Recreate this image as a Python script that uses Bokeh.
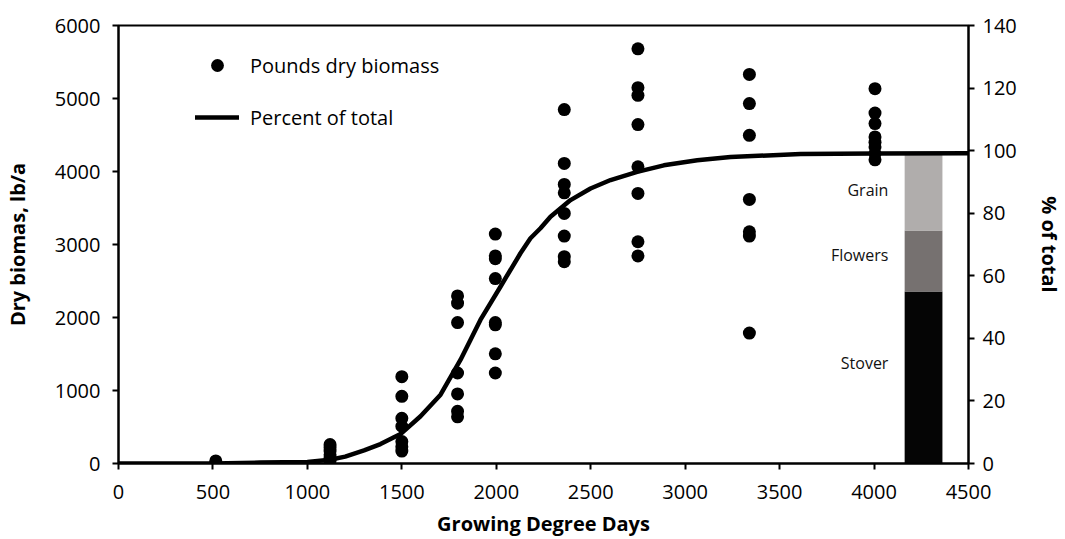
from bokeh.plotting import figure
from bokeh.models import Range1d, LinearAxis, FixedTicker, LabelSet, ColumnDataSource
from bokeh.core.properties import value
from bokeh.embed import file_html
from bokeh.resources import INLINE

# ---- data ----
gdd_pts = ([515] * 2 + [1120] * 6 + [1500] * 7 + [1795] * 7 + [1995] * 8 +
           [2360] * 8 + [2750] * 8 + [3340] * 7 + [4005] * 8)
biomass = [10, 35,
           260, 220, 170, 120, 80, 40,
           1190, 920, 620, 510, 300, 230, 170,
           2296, 2196, 1931, 1240, 953, 715, 640,
           3143, 2843, 2806, 2533, 1931, 1900, 1503, 1240,
           4848, 4110, 3823, 3708, 3426, 3116, 2833, 2765,
           5681, 5148, 5043, 4643, 4064, 3700, 3038, 2843,
           5330, 4930, 4496, 3617, 3175, 3116, 1786,
           5135, 4800, 4656, 4473, 4400, 4337, 4246, 4160]

gdd_curve = [0, 500, 750, 1000, 1120, 1200, 1300, 1387, 1493, 1599, 1705, 1811,
             1916, 2022, 2128, 2181, 2234, 2287, 2393, 2499, 2605, 2746, 2887,
             3064, 3240, 3611, 4000, 4500]
pct_total = [0, 0, 0.3, 0.5, 1.2, 2.2, 4.2, 6.2, 9.4, 15.1, 22, 33.2,
             45.9, 56.5, 67.2, 72, 75.2, 78.9, 84.2, 87.9, 90.6, 93.2, 95.3,
             96.9, 98, 98.9, 99.1, 99.2]

parts = ["Stover", "Flowers", "Grain"]
part_pct = [55, 19.5, 24.5]
part_colors = ["#050505", "#767170", "#b0adac"]
bar_x = 4262
label_y = [32.2, 66.6, 87.4]
label_x = 4076

x_ticks = list(range(0, 4501, 500))
y_ticks = list(range(0, 6001, 1000))
pct_ticks = list(range(0, 141, 20))

FONT = "Open Sans"

p = figure(width=1065, height=539, output_backend="svg", toolbar_location=None,
           x_range=Range1d(0, 4500), y_range=Range1d(0, 6000),
           min_border_left=118, min_border_right=97, min_border_top=25,
           min_border_bottom=75)
p.extra_y_ranges = {"pct": Range1d(0, 140)}
p.xgrid.visible = False
p.ygrid.visible = False
p.outline_line_color = "black"
p.outline_line_width = 2
p.background_fill_color = "white"
p.border_fill_color = "white"

# stacked bar
bottoms = []
acc = 0
for v in part_pct:
    bottoms.append(acc)
    acc += v
tops = [b + v for b, v in zip(bottoms, part_pct)]
bar_src = ColumnDataSource(dict(x=[bar_x] * 3, bottom=bottoms, top=tops, color=part_colors))
p.vbar(x="x", bottom="bottom", top="top", width=200, fill_color="color",
       line_color=None, source=bar_src, y_range_name="pct")

lab_src = ColumnDataSource(dict(x=[label_x] * 3, y=label_y, t=parts))
p.add_layout(LabelSet(x="x", y="y", text="t", source=lab_src, y_range_name="pct",
                      text_align="right", text_baseline="middle",
                      text_font=value(FONT), text_font_size="16px", text_color="#111111"))

# curve and points
line_r = p.line(gdd_curve, pct_total, y_range_name="pct", line_color="black",
                line_width=4.5, line_join="round", line_cap="round",
                legend_label="Percent of total")
pts_r = p.scatter(gdd_pts, biomass, size=13, fill_color="black", line_color=None,
                  legend_label="Pounds dry biomass")

# legend
lg = p.legend[0]
lg.items = [lg.items[1], lg.items[0]]
lg.location = (77, 330)
lg.border_line_color = None
lg.background_fill_alpha = 0
lg.padding = 0
lg.margin = 0
lg.spacing = 20
lg.glyph_width = 44
lg.glyph_height = 32
lg.label_height = 20
lg.label_standoff = 11
lg.label_text_font = FONT
lg.label_text_font_size = "20px"
lg.label_text_color = "black"

# axes
def style_axis(ax):
    ax.axis_line_color = "black"
    ax.axis_line_width = 2
    ax.major_tick_line_color = "black"
    ax.major_tick_line_width = 2
    ax.major_tick_out = 6
    ax.major_tick_in = 0
    ax.minor_tick_line_color = None
    ax.major_label_text_font = FONT
    ax.major_label_text_font_size = "20px"
    ax.major_label_text_color = "black"
    ax.axis_label_text_font = FONT
    ax.axis_label_text_font_size = "20px"
    ax.axis_label_text_font_style = "bold"
    ax.axis_label_text_color = "black"

xa = p.xaxis[0]
xa.ticker = FixedTicker(ticks=x_ticks)
xa.axis_label = "Growing Degree Days"
style_axis(xa)
xa.major_label_standoff = 15
xa.axis_label_standoff = 8

ya = p.yaxis[0]
ya.ticker = FixedTicker(ticks=y_ticks)
ya.axis_label = "Dry biomas, lb/a"
style_axis(ya)
ya.major_label_standoff = 12
ya.axis_label_standoff = 21

ra = LinearAxis(y_range_name="pct", ticker=FixedTicker(ticks=pct_ticks),
                axis_label="% of total")
style_axis(ra)
ra.major_label_standoff = 8
ra.axis_label_standoff = 16
p.add_layout(ra, "right")

open("out.html", "w").write(file_html(p, INLINE))
